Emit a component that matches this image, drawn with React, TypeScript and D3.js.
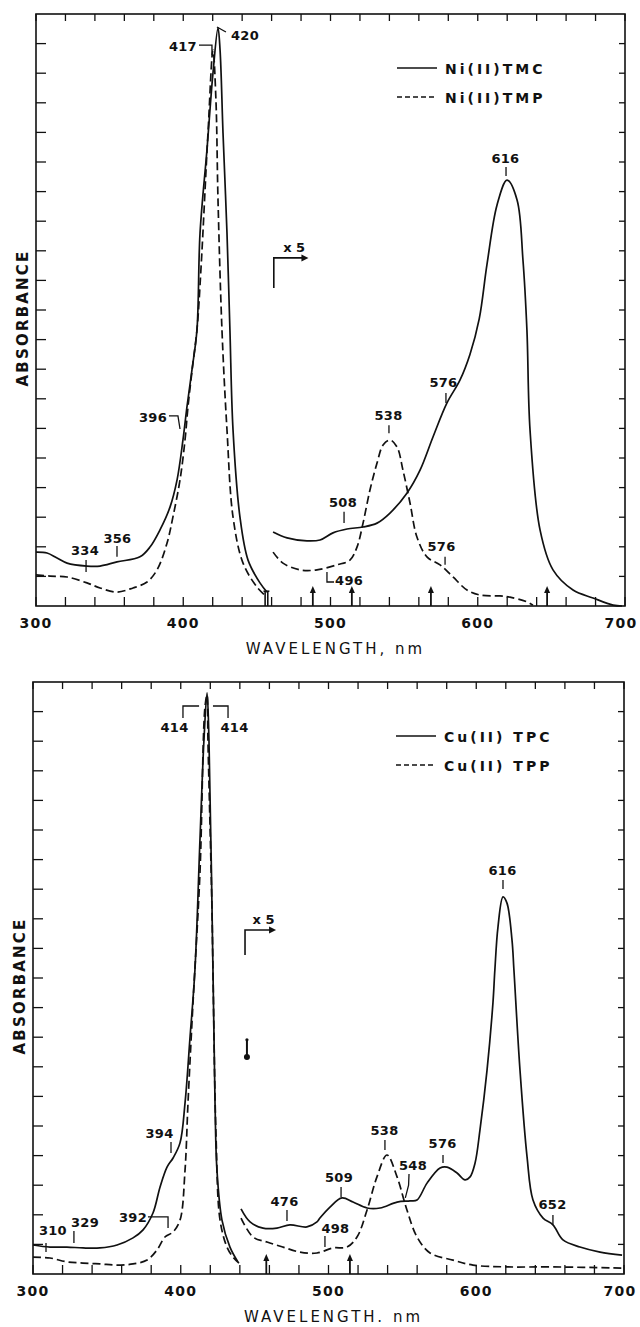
import * as d3 from 'd3';

// ---------- data (wavelength nm, absorbance in tick units) ----------
const tmcSoret: [number, number][] = [
  [300, 1.82], [307.5, 1.79], [314.3, 1.62], [321.1, 1.45], [334.6, 1.35], [343.5, 1.35],
  [355.0, 1.49], [370.6, 1.66], [377.4, 1.99], [384.2, 2.57], [391.0, 3.34], [395.8, 4.26],
  [399.8, 5.61], [402.5, 6.72], [405.9, 7.97], [409.3, 9.32], [411.4, 12.6], [416.1, 15.41],
  [420.2, 18.01], [423.6, 19.53], [425.0, 18.78], [427.0, 15.98], [429.7, 12.6], [431.7, 9.32],
  [433.8, 5.95], [438.5, 3.01], [444.0, 1.55], [452.1, 0.78], [456.9, 0.47],
];
const tmcVisible: [number, number][] = [
  [461.0, 2.5], [470.5, 2.3], [484.0, 2.2], [492.9, 2.23], [501.7, 2.47], [511.2, 2.6],
  [522.1, 2.67], [531.6, 2.8], [540.4, 3.14], [552.0, 3.82], [560.8, 4.59], [569.6, 5.71],
  [579.1, 6.86], [587.9, 7.63], [594.7, 8.5], [601.0, 9.7], [606.3, 11.55], [613.1, 13.55],
  [619.9, 14.39], [626.7, 13.72], [630.7, 11.69], [633.4, 9.32], [635.5, 5.95], [642.3, 2.57],
  [651.1, 1.22], [664.7, 0.54], [678.3, 0.27], [691.9, 0.03], [698.0, 0.0],
];
const tmpSoret: [number, number][] = [
  [300, 1.05], [309.5, 1.01], [321.1, 0.98], [334.6, 0.78], [343.5, 0.61], [355.0, 0.47],
  [365.9, 0.61], [375.4, 0.81], [382.2, 1.22], [389.0, 2.13], [393.0, 3.01], [397.8, 4.26],
  [401.2, 5.61], [403.2, 6.72], [406.6, 8.21], [409.3, 9.32], [412.1, 11.45], [416.8, 15.98],
  [420.2, 18.78], [422.2, 17.09], [423.6, 13.72], [426.3, 9.32], [429.7, 5.95], [433.8, 3.01],
  [440.6, 1.45], [450.1, 0.64], [456.9, 0.3],
];
const tmpVisible: [number, number][] = [
  [461.0, 1.82], [467.7, 1.45], [479.3, 1.22], [490.8, 1.22], [504.4, 1.39], [513.2, 1.55],
  [518.0, 1.99], [522.1, 2.8], [526.8, 3.92], [531.6, 4.83], [535.7, 5.44], [540.4, 5.61],
  [545.2, 5.37], [549.2, 4.59], [554.0, 3.48], [558.7, 2.33], [565.5, 1.66], [574.4, 1.39],
  [583.2, 0.98], [592.7, 0.54], [601.5, 0.37], [615.1, 0.34], [621.9, 0.3], [633.4, 0.14],
  [637.5, 0.03],
];

const tpcSoret: [number, number][] = [
  [300, 0.98], [311.5, 0.91], [323.0, 0.91], [333.8, 0.88], [345.3, 0.88], [356.9, 0.98],
  [367.7, 1.22], [374.5, 1.49], [381.2, 2.06], [386.0, 2.94], [390.7, 3.61], [394.8, 3.92],
  [399.5, 4.43], [402.9, 5.78], [406.3, 8.01], [409.6, 10.27], [413.0, 14.66], [415.7, 18.04],
  [417.8, 19.63], [419.1, 18.04], [421.8, 10.27], [423.2, 5.78], [424.5, 3.51], [427.9, 1.82],
  [433.3, 0.91], [438.7, 0.41],
];
const tpcVisible: [number, number][] = [
  [440.8, 2.2], [446.9, 1.76], [455.7, 1.55], [465.1, 1.55], [473.9, 1.66], [485.4, 1.59],
  [492.2, 1.76], [494.2, 1.89], [501.0, 2.26], [509.1, 2.57], [516.6, 2.43], [526.1, 2.23],
  [534.9, 2.23], [546.4, 2.43], [555.2, 2.47], [559.9, 2.5], [566.7, 3.07], [575.5, 3.58],
  [580.2, 3.61], [587.0, 3.41], [592.4, 3.18], [595.8, 3.28], [599.2, 3.75], [602.5, 4.86],
  [607.3, 6.89], [611.3, 9.16], [612.6, 10.27], [614.7, 11.72], [618.1, 12.74], [620.8, 12.53],
  [624.2, 11.28], [625.5, 10.27], [629.6, 6.89], [634.4, 3.95], [638.4, 2.5], [645.2, 1.89],
  [651.9, 1.66], [658.7, 1.15], [670.2, 0.91], [683.8, 0.74], [698.7, 0.64],
];
const tppSoret: [number, number][] = [
  [300, 0.57], [311.5, 0.54], [323.0, 0.41], [333.8, 0.37], [345.3, 0.34], [356.9, 0.3],
  [367.7, 0.34], [377.2, 0.47], [383.9, 0.81], [389.3, 1.25], [394.8, 1.42], [399.5, 1.82],
  [402.9, 3.51], [404.9, 5.78], [408.3, 9.16], [413.0, 13.55], [416.4, 19.16], [417.8, 19.56],
  [418.4, 18.04], [421.1, 12.4], [421.8, 10.27], [423.9, 4.63], [426.6, 1.82], [431.3, 0.91],
  [435.4, 0.57], [439.4, 0.37],
];
const tppVisible: [number, number][] = [
  [440.8, 1.89], [448.9, 1.25], [458.4, 1.08], [469.2, 0.91], [480.7, 0.74], [492.2, 0.71],
  [503.0, 0.88], [512.5, 0.91], [519.3, 1.25], [526.1, 2.16], [532.8, 3.28], [539.6, 4.02],
  [546.4, 3.28], [553.1, 2.16], [559.9, 1.25], [568.7, 0.71], [584.3, 0.47], [597.8, 0.3],
  [620.8, 0.24], [651.9, 0.24], [698.7, 0.2],
];

const xTickValues = d3.range(300, 701, 20);
const xTickLabels = [300, 400, 500, 600, 700];
const yTickValues = d3.range(1, 20);

const topLaserLines = [488.0, 514.5, 568.2, 647.1];
const bottomLaserLines = [457.9, 514.5];

type Ann = { label: string; at: [number, number]; anchor: string; path: [number, number][] };

const topNotes: Ann[] = [
  { label: '417', at: [409.3, 18.75], anchor: 'end', path: [[410.7, 18.95], [419.5, 18.95], [419.5, 18.61]] },
  { label: '420', at: [432.4, 19.12], anchor: 'start', path: [[422.9, 19.56], [429.0, 19.39]] },
  { label: '396', at: [389.0, 6.22], anchor: 'end', path: [[390.3, 6.42], [396.4, 6.42], [397.8, 5.98]] },
  { label: '334', at: [333.3, 1.72], anchor: 'middle', path: [[334.0, 1.55], [334.0, 1.15]] },
  { label: '356', at: [355.3, 2.13], anchor: 'middle', path: [[355.0, 2.03], [355.0, 1.66]] },
  { label: '508', at: [508.5, 3.34], anchor: 'middle', path: [[509.2, 3.18], [509.2, 2.8]] },
  { label: '538', at: [539.4, 6.28], anchor: 'middle', path: [[539.7, 6.11], [539.7, 5.84]] },
  { label: '576', at: [576.7, 7.4], anchor: 'middle', path: [[578.4, 7.2], [578.4, 6.86]] },
  { label: '576', at: [575.4, 1.86], anchor: 'middle', path: [[577.8, 1.66], [577.8, 1.39]] },
  { label: '496', at: [503.1, 0.71], anchor: 'start', path: [[497.6, 1.15], [497.6, 0.81], [502.4, 0.81]] },
  { label: '616', at: [618.8, 14.97], anchor: 'middle', path: [[619.2, 14.83], [619.2, 14.53]] },
];
const bottomNotes: Ann[] = [
  { label: '414', at: [395.8, 18.31], anchor: 'middle', path: [[401.5, 18.78], [401.5, 19.19], [412.4, 19.19]] },
  { label: '414', at: [436.4, 18.31], anchor: 'middle', path: [[421.8, 19.19], [432.0, 19.19], [432.0, 18.78]] },
  { label: '394', at: [385.6, 4.59], anchor: 'middle', path: [[393.4, 4.46], [393.4, 4.09]] },
  { label: '392', at: [377.2, 1.76], anchor: 'end', path: [[377.8, 1.93], [391.4, 1.93], [391.4, 1.55]] },
  { label: '310', at: [313.5, 1.32], anchor: 'middle', path: [[308.8, 1.05], [308.8, 0.74]] },
  { label: '329', at: [335.2, 1.59], anchor: 'middle', path: [[327.7, 1.45], [327.7, 1.05]] },
  { label: '476', at: [470.2, 2.3], anchor: 'middle', path: [[471.9, 2.16], [471.9, 1.79]] },
  { label: '509', at: [507.1, 3.11], anchor: 'middle', path: [[508.5, 2.94], [508.5, 2.6]] },
  { label: '498', at: [504.7, 1.39], anchor: 'middle', path: [[497.6, 1.28], [497.6, 0.91]] },
  { label: '538', at: [537.9, 4.7], anchor: 'middle', path: [[538.2, 4.53], [538.2, 4.19]] },
  { label: '548', at: [557.2, 3.51], anchor: 'middle', path: [[554.5, 3.38], [554.2, 3.0], [552.0, 2.57]] },
  { label: '576', at: [577.2, 4.26], anchor: 'middle', path: [[577.5, 4.02], [577.5, 3.75]] },
  { label: '652', at: [651.6, 2.2], anchor: 'middle', path: [[651.9, 1.99], [651.9, 1.66]] },
  { label: '616', at: [617.8, 13.48], anchor: 'middle', path: [[618.1, 13.31], [618.1, 13.01]] },
];

const FONT = '"DejaVu Sans", Arial, sans-serif';
const INK = '#111';

type PanelProps = {
  box: { left: number; right: number; top: number; bottom: number };
  solid: [number, number][][];
  dashed: [number, number][][];
  legend: [string, string];
  notes: Ann[];
  lasers: number[];
  x5: { nm: number; y0: number; y1: number; toNm: number };
  xTitle: string;
  extra?: (x: d3.ScaleLinear<number, number>, y: d3.ScaleLinear<number, number>) => any;
};

function Panel({ box, solid, dashed, legend, notes, lasers, x5, xTitle, extra }: PanelProps) {
  const x = d3.scaleLinear().domain([300, 700]).range([box.left, box.right]);
  const y = d3.scaleLinear().domain([0, 20]).range([box.bottom, box.top]);
  const line = d3.line<[number, number]>()
    .x(d => x(d[0]))
    .y(d => y(d[1]))
    .curve(d3.curveCatmullRom.alpha(0.5));
  const plain = d3.line<[number, number]>().x(d => x(d[0])).y(d => y(d[1]));

  const ax = x(x5.nm), ay0 = y(x5.y0), ay1 = y(x5.y1), ax1 = x(x5.toNm);

  return (
    <g>
      <rect x={box.left} y={box.top} width={box.right - box.left} height={box.bottom - box.top}
        fill="none" stroke={INK} strokeWidth={1.6} />
      {/* x ticks, bottom and top, pointing inward */}
      {xTickValues.map(v => (
        <g key={'xt' + v}>
          <line x1={x(v)} x2={x(v)} y1={box.bottom} y2={box.bottom - 9} stroke={INK} strokeWidth={1.3} />
          <line x1={x(v)} x2={x(v)} y1={box.top} y2={box.top + 7} stroke={INK} strokeWidth={1.3} />
        </g>
      ))}
      {yTickValues.map(v => (
        <g key={'yt' + v}>
          <line x1={box.left} x2={box.left + 10} y1={y(v)} y2={y(v)} stroke={INK} strokeWidth={1.3} />
          <line x1={box.right} x2={box.right - 6} y1={y(v)} y2={y(v)} stroke={INK} strokeWidth={1.3} />
        </g>
      ))}
      {xTickLabels.map(v => (
        <text key={'xl' + v} x={x(v) - (v === 700 ? 4 : 0)} y={box.bottom + 22} textAnchor="middle" fontFamily={FONT}
          fontSize={14} fontWeight="bold" style={{ letterSpacing: '1.2px' }} fill={INK}>{v}</text>
      ))}
      <text x={(box.left + box.right) / 2 + 5} y={box.bottom + 48} textAnchor="middle" fontFamily={FONT}
        fontSize={15} style={{ letterSpacing: '3px' }} fill={INK}>{xTitle}</text>
      <text transform={`translate(${box.left - 8},${(box.top + box.bottom) / 2 + 8}) rotate(-90)`}
        textAnchor="middle" fontFamily={FONT} fontSize={15} fontWeight="bold"
        style={{ letterSpacing: '2.2px' }} fill={INK}>ABSORBANCE</text>

      {/* spectra */}
      {solid.map((s, i) => (
        <path key={'s' + i} d={line(s) || ''} fill="none" stroke={INK} strokeWidth={1.7} />
      ))}
      {dashed.map((s, i) => (
        <path key={'d' + i} d={line(s) || ''} fill="none" stroke={INK} strokeWidth={1.7} strokeDasharray="8,4" />
      ))}

      {/* excitation lines */}
      {lasers.map(v => (
        <g key={'l' + v}>
          <line x1={x(v)} x2={x(v)} y1={box.bottom} y2={box.bottom - 15} stroke={INK} strokeWidth={1.8} />
          <path d={`M${x(v) - 3},${box.bottom - 13} L${x(v)},${box.bottom - 20} L${x(v) + 3},${box.bottom - 13} Z`} fill={INK} />
        </g>
      ))}

      {/* x5 marker */}
      <path d={`M${ax},${ay0} V${ay1} H${ax1 - 6}`} fill="none" stroke={INK} strokeWidth={1.6} />
      <path d={`M${ax1 - 7},${ay1 - 3.5} L${ax1},${ay1} L${ax1 - 7},${ay1 + 3.5} Z`} fill={INK} />
      <text x={(ax + ax1) / 2 + 3} y={ay1 - 6} textAnchor="middle" fontFamily={FONT} fontSize={13}
        fontWeight="bold" fill={INK}>x 5</text>

      {/* peak annotations */}
      {notes.map((n, i) => (
        <g key={'n' + i}>
          <path d={plain(n.path) || ''} fill="none" stroke={INK} strokeWidth={1.3} />
          <text x={x(n.at[0])} y={y(n.at[1])} textAnchor={n.anchor as any} fontFamily={FONT} fontSize={13}
            fontWeight="bold" style={{ letterSpacing: '0.3px' }} fill={INK}>{n.label}</text>
        </g>
      ))}

      {/* legend */}
      <line x1={box.right - 228} x2={box.right - 188} y1={box.top + 54} y2={box.top + 54} stroke={INK} strokeWidth={1.6} />
      <line x1={box.right - 228} x2={box.right - 188} y1={box.top + 83} y2={box.top + 83} stroke={INK} strokeWidth={1.6} strokeDasharray="5,3" />
      <text x={box.right - 180} y={box.top + 59.5} fontFamily={FONT} fontSize={14} fontWeight="bold"
        style={{ letterSpacing: '3px' }} fill={INK}>{legend[0]}</text>
      <text x={box.right - 180} y={box.top + 88.5} fontFamily={FONT} fontSize={14} fontWeight="bold"
        style={{ letterSpacing: '3px' }} fill={INK}>{legend[1]}</text>
      {extra ? extra(x, y) : null}
    </g>
  );
}

export default function App() {
  return (
    <svg width={640} height={1327} style={{ position: 'absolute', left: 0, top: 0, background: '#fff' }}>
      <rect width={640} height={1327} fill="#fff" />
      <Panel
        box={{ left: 36, right: 625, top: 14, bottom: 606 }}
        solid={[tmcSoret, tmcVisible]}
        dashed={[tmpSoret, tmpVisible]}
        legend={['Ni(II)TMC', 'Ni(II)TMP']}
        notes={topNotes}
        lasers={topLaserLines}
        x5={{ nm: 461.5, y0: 10.74, y1: 11.76, toNm: 485 }}
        xTitle="WAVELENGTH, nm"
        extra={(x, y) => (
          <g>
            <line x1={x(454.5)} x2={x(458.5)} y1={y(0.5)} y2={y(0.5)} stroke={INK} strokeWidth={1.6} />
            <line x1={x(455.6)} x2={x(455.6)} y1={y(0.5)} y2={y(0)} stroke={INK} strokeWidth={1.6} />
            <line x1={x(457.4)} x2={x(457.4)} y1={y(0.5)} y2={y(0)} stroke={INK} strokeWidth={1.6} />
          </g>
        )}
      />
      <Panel
        box={{ left: 33, right: 624, top: 682, bottom: 1274 }}
        solid={[tpcSoret, tpcVisible]}
        dashed={[tppSoret, tppVisible]}
        legend={['Cu(II) TPC', 'Cu(II) TPP']}
        notes={bottomNotes}
        lasers={bottomLaserLines}
        x5={{ nm: 443.5, y0: 10.78, y1: 11.62, toNm: 464.5 }}
        xTitle="WAVELENGTH. nm"
        extra={(x, y) => (
          <g>
            <line x1={x(444.8)} x2={x(444.8)} y1={y(7.9)} y2={y(7.4)} stroke={INK} strokeWidth={2} />
            <circle cx={x(444.8)} cy={y(7.91)} r={1.6} fill={INK} />
            <circle cx={x(444.8)} cy={y(7.33)} r={3} fill={INK} />
          </g>
        )}
      />
    </svg>
  );
}
